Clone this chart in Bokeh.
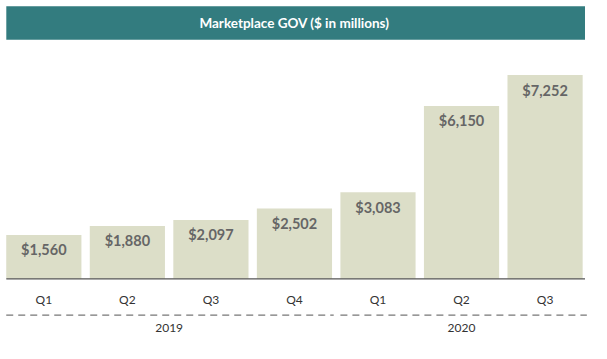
from bokeh.plotting import figure
from bokeh.models import ColumnDataSource, Range1d
from bokeh.embed import file_html
from bokeh.resources import INLINE
from bokeh.core.properties import value

# ---- data ----
title = "Marketplace GOV ($ in millions)"
quarters = ["Q1", "Q2", "Q3", "Q4", "Q1", "Q2", "Q3"]
years = ["2019", "2020"]
year_members = [[0, 1, 2, 3], [4, 5, 6]]
gov = [1560, 1880, 2097, 2502, 3083, 6150, 7252]
gov_labels = ["$1,560", "$1,880", "$2,097", "$2,502", "$3,083", "$6,150", "$7,252"]

# ---- styling ----
TEAL = "#337c7f"
BAR = "#dcdec8"
LABEL = "#666666"
FONT = "Lato"

W, H = 591, 343
PX_X = 83.54          # px per category
PX_Y = 35.59          # data units per px
BW = 0.9
BASE_PX = 278.3       # baseline position from top (px)

x0 = -43.33 / PX_X
x1 = x0 + W / PX_X
y0 = -(H - BASE_PX) * PX_Y
ytop = y0 + H * PX_Y


def xs(px):
    return x0 + px / PX_X


def ys(px):
    return ytop - px * PX_Y


p = figure(width=W, height=H, output_backend="svg", toolbar_location=None,
           x_range=Range1d(x0, x1), y_range=Range1d(y0, ytop),
           min_border=0, outline_line_color=None)
p.axis.visible = False
p.grid.visible = False
p.background_fill_color = "white"
p.border_fill_color = "white"

n = len(gov)
idx = list(range(n))
src = ColumnDataSource(dict(x=idx, top=gov, lab=gov_labels, q=quarters,
                            qy=[-21.0 * PX_Y] * n))

# title bar
p.quad(left=[xs(5.8)], right=[xs(584.5)], top=[ys(5.7)], bottom=[ys(39.2)],
       fill_color=TEAL, line_color=None)
p.text(x=[(n - 1) / 2], y=[ys(22.6)], text=[title],
       text_color="white", text_font=value(FONT), text_font_style="bold",
       text_font_size="13.5px", text_align="center", text_baseline="middle")

# bars
p.vbar(x="x", top="top", bottom=0, width=BW, source=src, fill_color=BAR, line_color=None)
p.text(x="x", y="top", text="lab", source=src, y_offset=15,
       text_color=LABEL, text_font=value(FONT), text_font_style="bold",
       text_font_size="14.5px", text_align="center", text_baseline="middle")

# baseline
p.segment(x0=[xs(5.8)], x1=[xs(584.5)], y0=[0], y1=[0],
          line_color="#555555", line_width=1.2)

# quarter labels
p.text(x="x", y="qy", text="q", source=src,
       text_color="#333333", text_font=value(FONT), text_font_size="12px",
       text_align="center", text_baseline="middle")

# year groups: dashed lines + labels
for yr, mem in zip(years, year_members):
    right = mem[-1] + BW / 2 + (0.05 if mem[-1] == n - 1 else 0.02)
    p.segment(x0=[mem[0] - BW / 2], x1=[right],
              y0=[-36.3 * PX_Y], y1=[-36.3 * PX_Y],
              line_color="#777777", line_width=1.3, line_dash="7 5")
    p.text(x=[sum(mem) / len(mem)], y=[-49.1 * PX_Y], text=[yr],
           text_color="#333333", text_font=value(FONT), text_font_size="12px",
           text_align="center", text_baseline="middle")

open("out.html", "w").write(file_html(p, INLINE))
